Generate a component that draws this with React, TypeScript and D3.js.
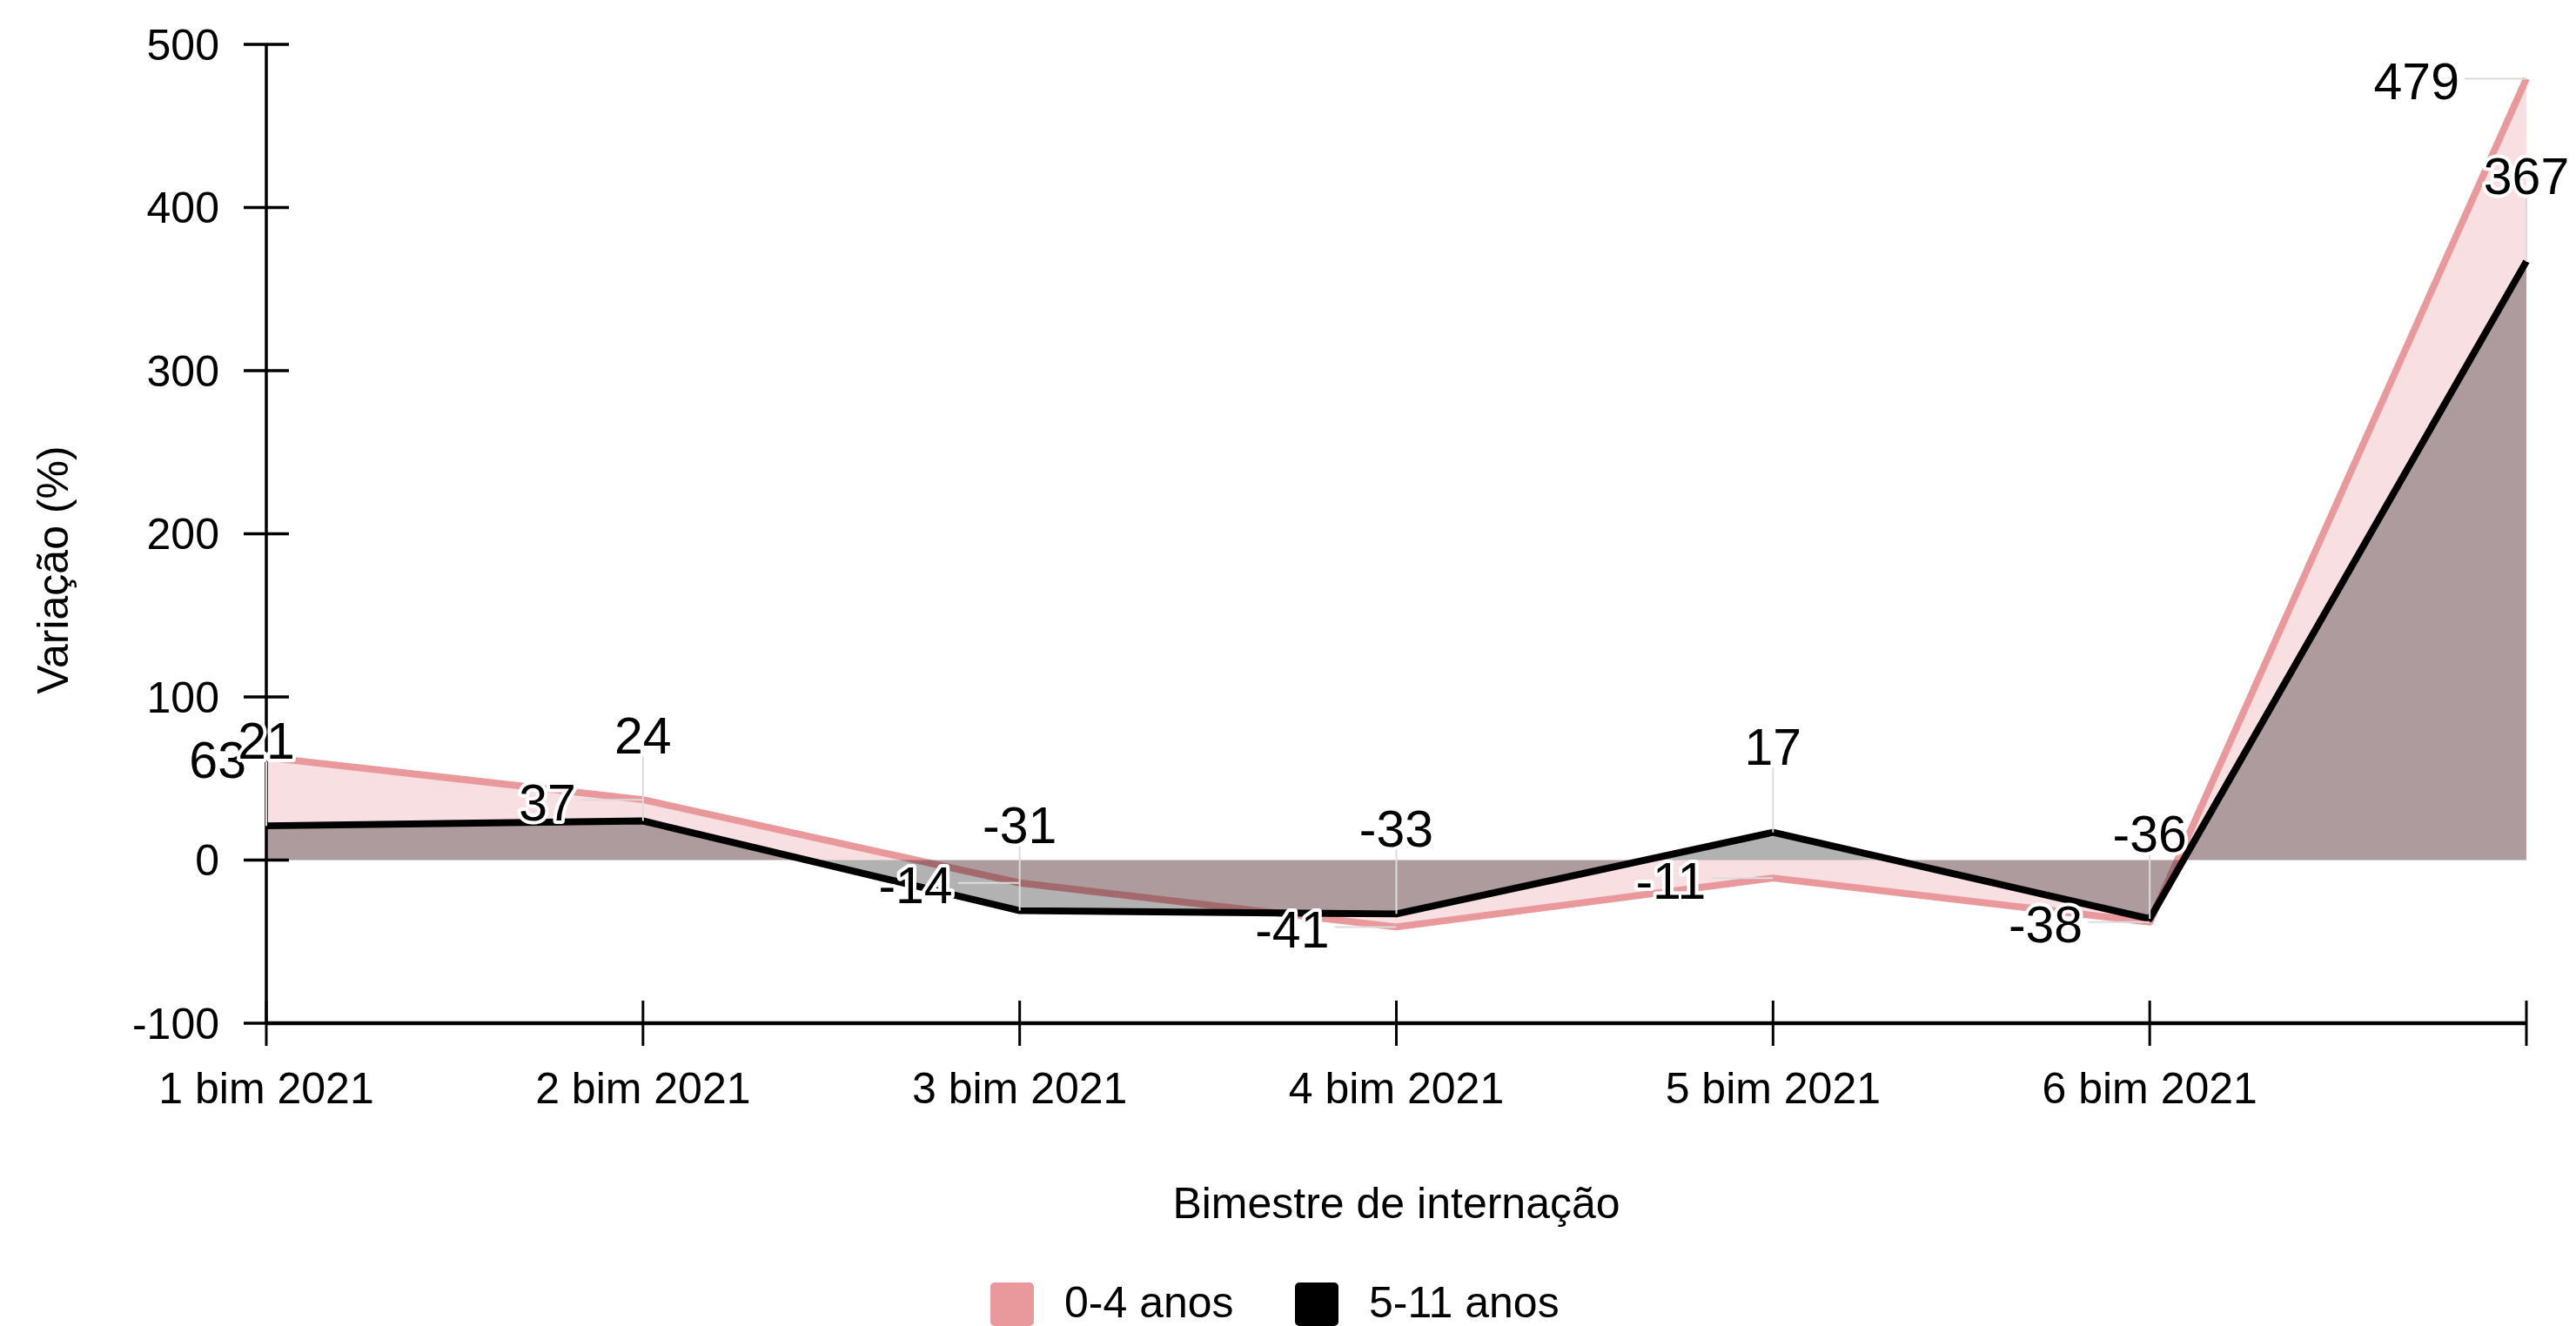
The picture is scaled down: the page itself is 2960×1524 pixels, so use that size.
import React, { useEffect, useRef } from "react";
import * as d3 from "d3";

const categories = ["1 bim 2021", "2 bim 2021", "3 bim 2021", "4 bim 2021", "5 bim 2021", "6 bim 2021", ""];
const kids04 = [63, 37, -14, -41, -11, -38, 479];
const kids511 = [21, 24, -31, -33, 17, -36, 367];
const yTicks = [-100, 0, 100, 200, 300, 400, 500];
const seriesNames = ["0-4 anos", "5-11 anos"];

const pink = "#e9999b";
const font = "'Liberation Sans', Arial, Helvetica, sans-serif";

const App = () => {
  const chart = useRef<SVGSVGElement>(null);

  useEffect(() => {
    document.body.style.margin = "0";
    const width = 2960;
    const height = 1524;
    const margin = { top: 51, right: 57, bottom: 348, left: 306 };

    const svg = d3.select(chart.current);
    svg.selectAll("*").remove();
    svg.attr("width", width).attr("height", height);

    const x = d3.scalePoint<string>()
      .domain(categories.map((c, i) => String(i)))
      .range([margin.left, width - margin.right]);

    const y = d3.scaleLinear()
      .domain([-100, 500])
      .range([height - margin.bottom, margin.top]);

    const idx = categories.map((c, i) => i);
    const px = (i: number) => x(String(i)) as number;

    // areas + lines: pink first, black on top
    const area = (vals: number[]) => d3.area<number>()
      .x(i => px(i))
      .y0(y(0))
      .y1(i => y(vals[i]));
    const line = (vals: number[]) => d3.line<number>()
      .x(i => px(i))
      .y(i => y(vals[i]));

    svg.append("path").attr("d", area(kids04)(idx)).attr("fill", "#e8969a").attr("fill-opacity", 0.3);
    svg.append("path").attr("d", line(kids04)(idx)).attr("fill", "none").attr("stroke", pink).attr("stroke-width", 8).attr("stroke-linejoin", "round");
    svg.append("path").attr("d", area(kids511)(idx)).attr("fill", "#000").attr("fill-opacity", 0.3);
    svg.append("path").attr("d", line(kids511)(idx)).attr("fill", "none").attr("stroke", "#000").attr("stroke-width", 8).attr("stroke-linejoin", "round");

    // y axis
    const yAxis = svg.append("g").attr("transform", `translate(${margin.left},0)`);
    yAxis.append("line").attr("x1", 0).attr("x2", 0).attr("y1", y(500)).attr("y2", y(-100)).attr("stroke", "#000").attr("stroke-width", 3.5);
    yAxis.selectAll("line.tick").data(yTicks).join("line")
      .attr("class", "tick")
      .attr("x1", -26).attr("x2", 26)
      .attr("y1", d => y(d)).attr("y2", d => y(d))
      .attr("stroke", "#000").attr("stroke-width", 3.5);
    yAxis.selectAll("text").data(yTicks).join("text")
      .attr("x", -54).attr("y", d => y(d)).attr("dy", "0.35em")
      .attr("text-anchor", "end")
      .attr("font-family", font).attr("font-size", 50).attr("fill", "#000")
      .text(d => d);

    // x axis
    const x0 = height - margin.bottom;
    const xAxis = svg.append("g");
    xAxis.append("line").attr("x1", margin.left).attr("x2", width - margin.right).attr("y1", x0).attr("y2", x0).attr("stroke", "#000").attr("stroke-width", 4.5);
    xAxis.selectAll("line.tick").data(idx).join("line")
      .attr("class", "tick")
      .attr("x1", i => px(i)).attr("x2", i => px(i))
      .attr("y1", x0 - 26).attr("y2", x0 + 26)
      .attr("stroke", "#000").attr("stroke-width", 3);
    xAxis.selectAll("text").data(idx).join("text")
      .attr("x", i => px(i)).attr("y", x0 + 92)
      .attr("text-anchor", "middle")
      .attr("font-family", font).attr("font-size", 50).attr("fill", "#000")
      .text(i => categories[i]);

    // axis titles
    svg.append("text")
      .attr("x", (margin.left + width - margin.right) / 2).attr("y", 1400)
      .attr("text-anchor", "middle")
      .attr("font-family", font).attr("font-size", 50).attr("fill", "#000")
      .text("Bimestre de internação");
    svg.append("text")
      .attr("transform", "translate(78,655) rotate(-90)")
      .attr("text-anchor", "middle")
      .attr("font-family", font).attr("font-size", 50).attr("fill", "#000")
      .text("Variação (%)");

    // leader lines
    const leaders = svg.append("g").attr("stroke", "#dcdcdc").attr("stroke-width", 2);
    const pinkLabelX = (i: number) => Math.max(px(i) - 77, margin.left - 23);
    leaders.selectAll("line.p").data(idx).join("line")
      .attr("class", "p")
      .attr("x1", i => pinkLabelX(i) + 6).attr("x2", i => px(i))
      .attr("y1", i => y(kids04[i])).attr("y2", i => y(kids04[i]));
    leaders.selectAll("line.b").data(idx).join("line")
      .attr("class", "b")
      .attr("x1", i => px(i)).attr("x2", i => px(i))
      .attr("y1", i => y(kids511[i]) - 74).attr("y2", i => y(kids511[i]));

    // value labels
    const labels = svg.append("g")
      .attr("font-family", font).attr("font-size", 59).attr("fill", "#000")
      .attr("stroke", "#fff").attr("stroke-width", 8).attr("stroke-linejoin", "round")
      .attr("paint-order", "stroke");
    labels.selectAll("text.p").data(idx).join("text")
      .attr("class", "p")
      .attr("x", i => pinkLabelX(i)).attr("y", i => y(kids04[i]) + 3)
      .attr("dy", "0.35em").attr("text-anchor", "end")
      .text(i => kids04[i]);
    labels.selectAll("text.b").data(idx).join("text")
      .attr("class", "b")
      .attr("x", i => px(i)).attr("y", i => y(kids511[i]) - 98)
      .attr("dy", "0.35em").attr("text-anchor", "middle")
      .text(i => kids511[i]);

    // legend
    const legend = svg.append("g");
    const legendX = [1138, 1488];
    const legendColors = [pink, "#000"];
    seriesNames.forEach((name, k) => {
      legend.append("rect")
        .attr("x", legendX[k]).attr("y", 1474).attr("width", 50).attr("height", 50).attr("rx", 5)
        .attr("fill", legendColors[k]);
      legend.append("text")
        .attr("x", legendX[k] + 85).attr("y", 1496).attr("dy", "0.35em")
        .attr("font-family", font).attr("font-size", 50).attr("fill", "#000")
        .text(name);
    });
  }, []);

  return (
    <div>
      <svg ref={chart} style={{ display: "block" }} />
    </div>
  );
};

export default App;
